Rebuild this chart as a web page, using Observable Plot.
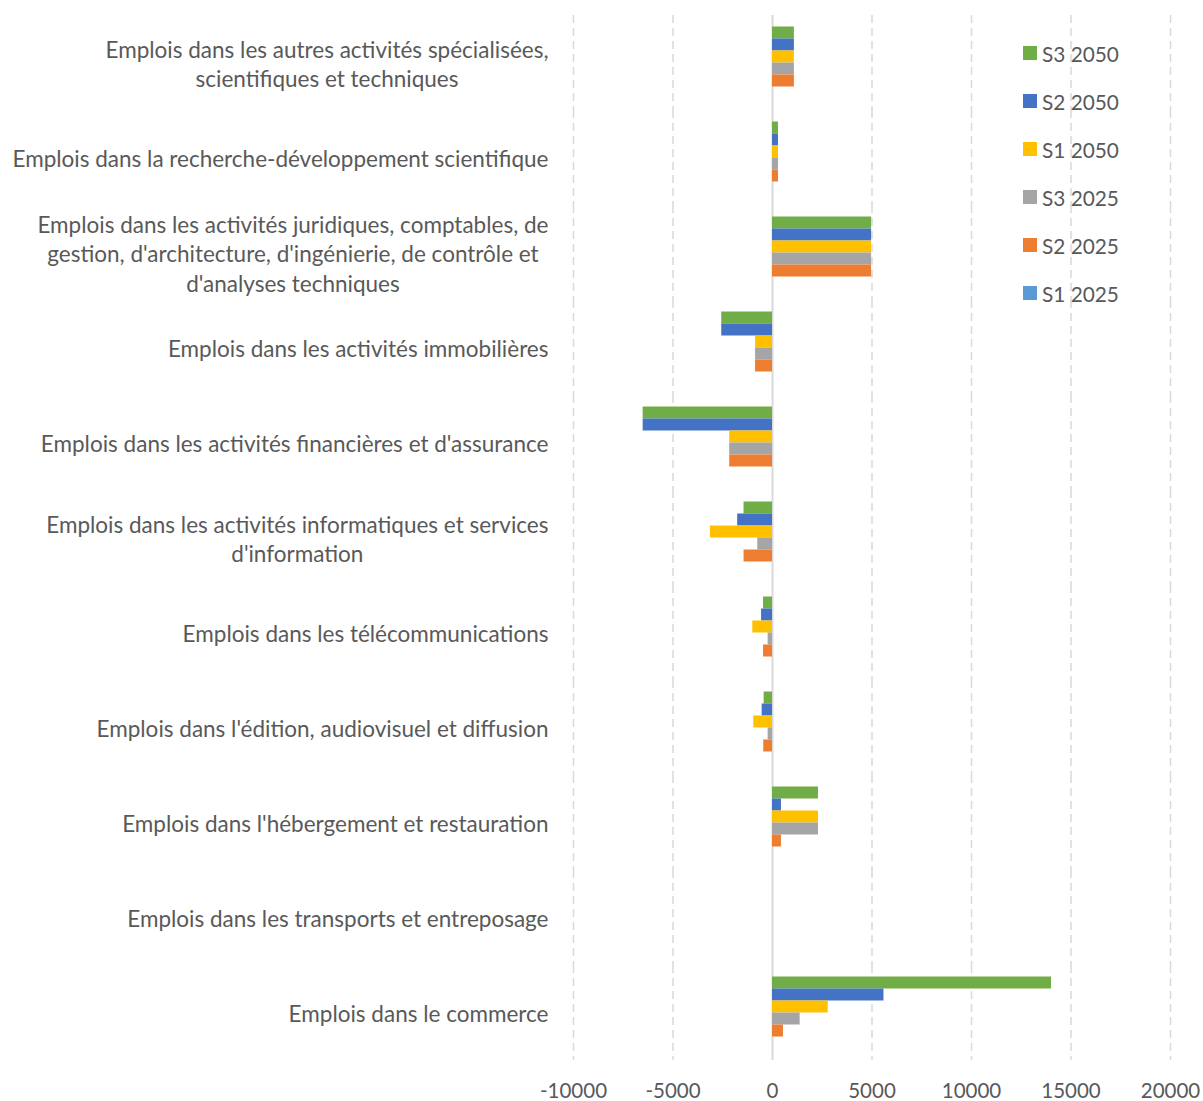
<!DOCTYPE html>
<html><head><meta charset="utf-8">
<script src="https://cdn.jsdelivr.net/npm/d3@7"></script>
<script src="https://cdn.jsdelivr.net/npm/@observablehq/plot@0.6"></script>
<style>
body{margin:0;background:#fff;font-family:Lato, sans-serif;}
#wrap{position:relative;width:1203px;height:1101px;}
#legend{position:absolute;left:1023px;top:29px;}
.item{height:48px;display:flex;align-items:center;font-size:20.8px;color:#595959;}
.sw{width:14px;height:14px;margin-right:5px;flex:none;}
</style></head><body><div id="wrap"></div>
<script>
const categories = [
  "Emplois dans les autres activités spécialisées,\nscientifiques et techniques",
  "Emplois dans la recherche-développement scientifique",
  "Emplois dans les activités juridiques, comptables, de\ngestion, d'architecture, d'ingénierie, de contrôle et\nd'analyses techniques",
  "Emplois dans les activités immobilières",
  "Emplois dans les activités financières et d'assurance",
  "Emplois dans les activités informatiques et services\nd'information",
  "Emplois dans les télécommunications",
  "Emplois dans l'édition, audiovisuel et diffusion",
  "Emplois dans l'hébergement et restauration",
  "Emplois dans les transports et entreposage",
  "Emplois dans le commerce"
];
const seriesNames = ["S3 2050", "S2 2050", "S1 2050", "S3 2025", "S2 2025", "S1 2025"];
const seriesColors = ["#70AD47", "#4472C4", "#FFC000", "#A5A5A5", "#ED7D31", "#5B9BD5"];
const s3_2050 = [1100, 300, 4980, -2550, -6500, -1430, -450, -420, 2310, 0, 14020];
const s2_2050 = [1100, 300, 4980, -2550, -6500, -1750, -550, -520, 450, 0, 5600];
const s1_2050 = [1100, 300, 4980, -850, -2150, -3120, -990, -940, 2310, 0, 2800];
const s3_2025 = [1100, 300, 4980, -850, -2150, -740, -220, -220, 2310, 0, 1390];
const s2_2025 = [1100, 300, 4980, -850, -2150, -1430, -450, -440, 450, 0, 550];
const s1_2025 = [0, 0, 0, 0, 0, 0, 0, 0, 0, 0, 0];
const xTicks = [-10000, -5000, 0, 5000, 10000, 15000, 20000];

const valuesBySeries = [s3_2050, s2_2050, s1_2050, s3_2025, s2_2025, s1_2025];
const data = [];
seriesNames.forEach((s, i) => categories.forEach((c, j) => data.push({category: c, series: s, value: valuesBySeries[i][j]})));

const chart = Plot.plot({
  width: 1203, height: 1101,
  marginLeft: 573, marginRight: 33, marginTop: 14.5, marginBottom: 41.5,
  style: {fontFamily: "Lato, sans-serif", fontSize: "20px", color: "#595959", background: "#fff", overflow: "visible"},
  x: {domain: [-10000, 20000], label: null},
  y: {domain: seriesNames, paddingInner: 0, paddingOuter: 0.74, axis: null},
  fy: {domain: categories, padding: 0, label: null},
  color: {domain: seriesNames, range: seriesColors},
  marks: [
    Plot.ruleX(xTicks.filter(d => d !== 0), {stroke: "#d9d9d9", strokeWidth: 1.5, strokeDasharray: "8,5"}),
    Plot.ruleX([0], {stroke: "#d9d9d9", strokeWidth: 2}),
    Plot.barX(data, {fy: "category", y: "series", x: "value", fill: "series"}),
    Plot.axisX({ticks: xTicks, tickFormat: d => String(d), tickSize: 0, tickPadding: 22.5, fontSize: 20.5, label: null}),
    Plot.axisFy({anchor: "left", tickSize: 0, tickPadding: 25, lineHeight: 1.31, fontSize: 22.5, label: null})
  ]
});
const wrap = document.getElementById("wrap");
wrap.appendChild(chart);

// center multi-line category labels within their block (Excel style)
chart.querySelectorAll('g[aria-label="fy-axis tick label"] text').forEach(t => {
  const spans = t.querySelectorAll("tspan");
  if (spans.length < 2) return;
  const dx = parseFloat(t.getAttribute("dx") || 0);
  t.removeAttribute("dx");
  spans.forEach(s => s.setAttribute("x", dx));
  const b1 = t.getBBox();
  const c1 = b1.x + b1.width / 2;
  t.setAttribute("text-anchor", "middle");
  const b2 = t.getBBox();
  const c2 = b2.x + b2.width / 2;
  spans.forEach(s => s.setAttribute("x", dx + (c1 - c2)));
});

const legend = document.createElement("div");
legend.id = "legend";
seriesNames.forEach((s, i) => {
  const it = document.createElement("div");
  it.className = "item";
  it.innerHTML = `<span class="sw" style="background:${seriesColors[i]}"></span><span>${s}</span>`;
  legend.appendChild(it);
});
wrap.appendChild(legend);
</script></body></html>
